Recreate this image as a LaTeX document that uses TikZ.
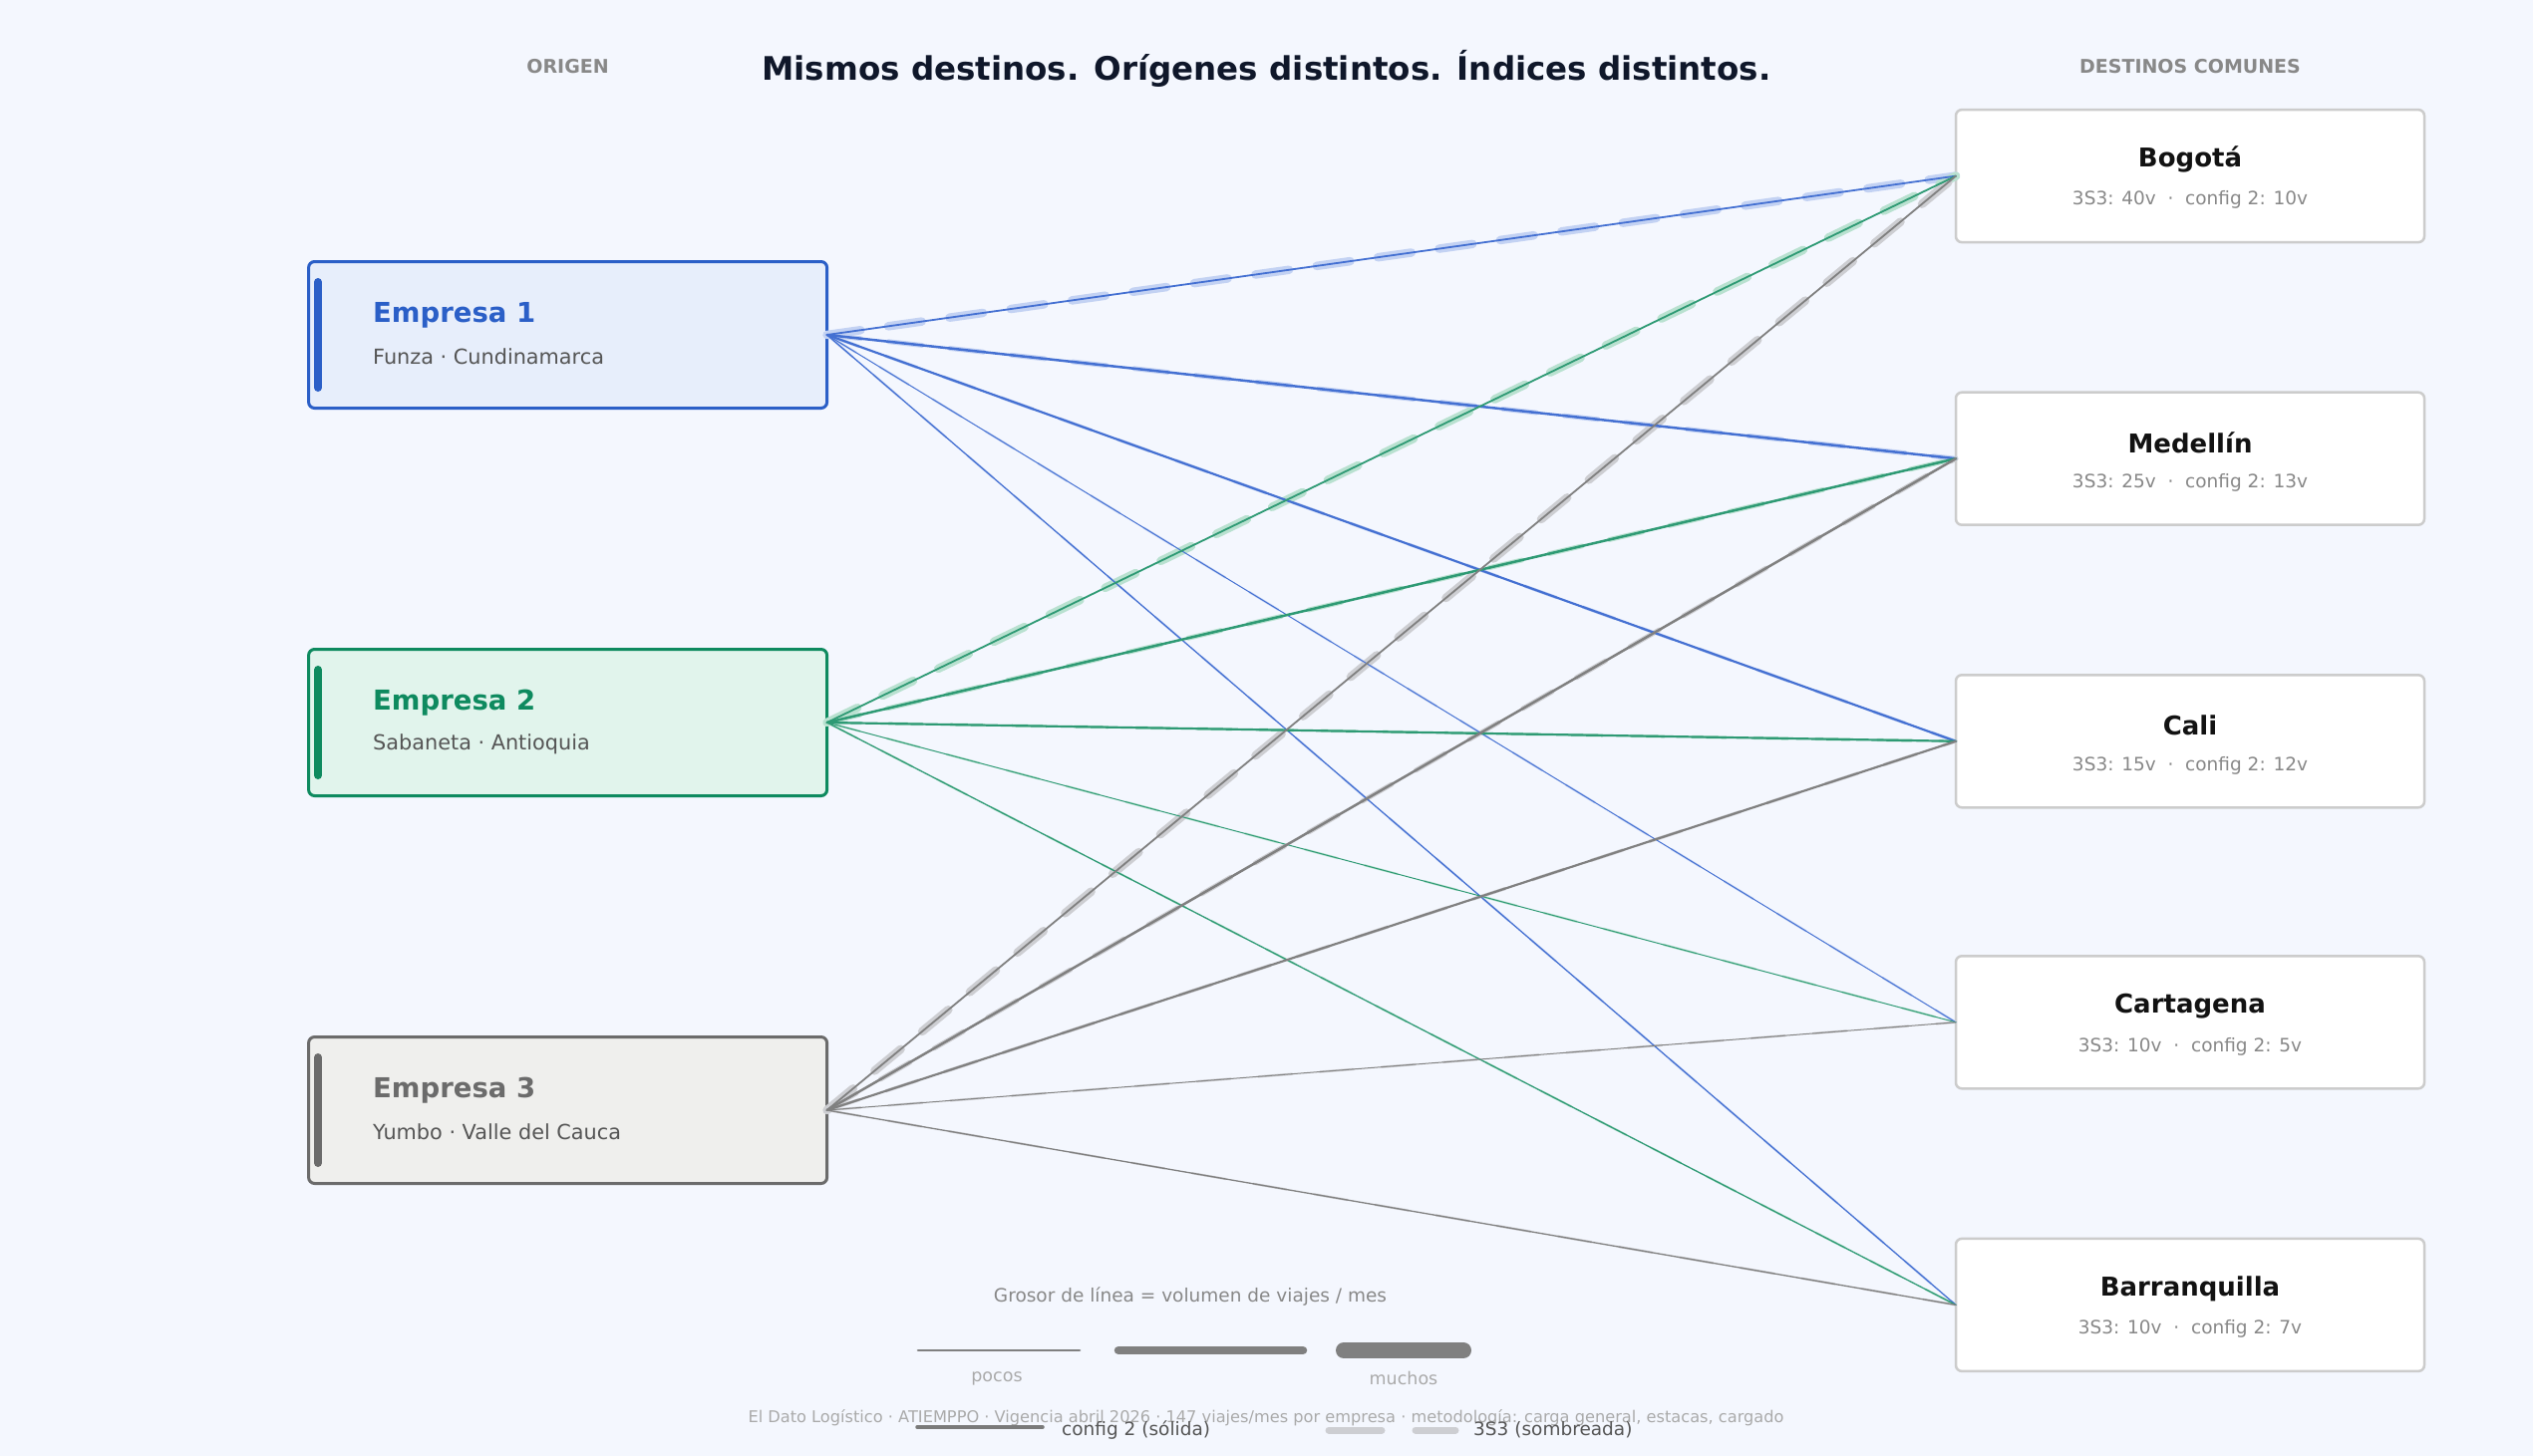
\documentclass[tikz,border=0pt]{standalone}
\usepackage{fontspec}
\setmainfont{DejaVu Sans}
\definecolor{bg}{HTML}{F4F7FE}
\definecolor{cblue}{HTML}{2B5FC7}
\definecolor{cgreen}{HTML}{0E8A5F}
\definecolor{cgray}{HTML}{6B6B6B}
\definecolor{fblue}{HTML}{E7EEFB}
\definecolor{fgreen}{HTML}{E1F4EC}
\definecolor{fgray}{HTML}{EFEFED}
\definecolor{lblue}{HTML}{4470D2}
\definecolor{lgreen}{HTML}{2E9A74}
\definecolor{lgray}{HTML}{808080}
\definecolor{sblue}{HTML}{C3D2F3}
\definecolor{sgreen}{HTML}{B9E1D0}
\definecolor{sgray}{HTML}{CDCED2}
\definecolor{txtdark}{HTML}{0F172A}
\definecolor{txtmid}{HTML}{555555}
\definecolor{txtlight}{HTML}{888888}
\definecolor{txtfaint}{HTML}{AAAAAA}
\definecolor{dborder}{HTML}{CCCCCC}
\begin{document}
\begin{tikzpicture}[x=1pt,y=-1pt,
  obox/.style={rectangle, rounded corners=6pt, line width=3pt, minimum width=520pt, minimum height=147pt, inner sep=0pt, outer sep=0pt},
  dbox/.style={rectangle, rounded corners=6pt, line width=2.5pt, draw=dborder, fill=white, minimum width=470pt, minimum height=133pt, inner sep=0pt, outer sep=0pt},
  oname/.style={anchor=west, inner sep=0pt, font=\fontsize{27.5}{30}\selectfont\bfseries},
  osub/.style={anchor=west, inner sep=0pt, text=txtmid, font=\fontsize{20.8}{24}\selectfont},
  dname/.style={inner sep=0pt, text=black!93, font=\fontsize{26}{30}\selectfont\bfseries},
  dsub/.style={inner sep=0pt, text=txtlight, font=\fontsize{18.5}{22}\selectfont},
  hdr/.style={inner sep=0pt, text=txtlight, font=\fontsize{19}{22}\selectfont\bfseries},
  accent/.style={line width=8pt, line cap=round},
  shade3/.style={line cap=round, dash pattern=on 34pt off 28pt},
  solid2/.style={line cap=round},
  lgtxt/.style={inner sep=0pt, text=txtlight, font=\fontsize{18.5}{22}\selectfont},
  lgsmall/.style={inner sep=0pt, text=txtfaint, font=\fontsize{17.5}{20}\selectfont}
]
\fill[bg] (0,0) rectangle (2541,1461);
\useasboundingbox (0,0) rectangle (2541,1461);

% headers
\node[hdr] (horig) at (569.6,66.5) {ORIGEN};
\node[hdr] (hdest) at (2197,66.5) {DESTINOS COMUNES};
\node[inner sep=0pt, text=txtdark, font=\fontsize{32.5}{36}\selectfont\bfseries] (title) at (1270.5,69) {Mismos destinos. Orígenes distintos. Índices distintos.};

% destination boxes
\node[dbox] (bog) at (2197,176.6) {};
\node[dbox] (med) at (2197,460.2) {};
\node[dbox] (cal) at (2197,743.8) {};
\node[dbox] (car) at (2197,1025.8) {};
\node[dbox] (bar) at (2197,1309.4) {};
\node[dname] (bogn) at (2197,160.3) {Bogotá};
\node[dsub] (bogs) at (2197,200.8) {3S3: 40v \ \textperiodcentered\ \ config 2: 10v};
\node[dname] (medn) at (2197,443.9) {Medellín};
\node[dsub] (meds) at (2197,484.4) {3S3: 25v \ \textperiodcentered\ \ config 2: 13v};
\node[dname] (caln) at (2197,727.5) {Cali};
\node[dsub] (cals) at (2197,768) {3S3: 15v \ \textperiodcentered\ \ config 2: 12v};
\node[dname] (carn) at (2197,1009.5) {Cartagena};
\node[dsub] (cars) at (2197,1050) {3S3: 10v \ \textperiodcentered\ \ config 2: 5v};
\node[dname] (barn) at (2197,1293.1) {Barranquilla};
\node[dsub] (bars) at (2197,1333.6) {3S3: 10v \ \textperiodcentered\ \ config 2: 7v};

% origin boxes
\node[obox, draw=cblue, fill=fblue] (e1) at (569.6,336) {};
\node[obox, draw=cgreen, fill=fgreen] (e2) at (569.6,725) {};
\node[obox, draw=cgray, fill=fgray] (e3) at (569.6,1114) {};
\draw[accent, cblue] ([xshift=9.5pt,yshift=-53pt]e1.west) coordinate (a1t) -- ([xshift=9.5pt,yshift=53pt]e1.west) coordinate (a1b);
\draw[accent, cgreen] ([xshift=9.5pt,yshift=-53pt]e2.west) coordinate (a2t) -- ([xshift=9.5pt,yshift=53pt]e2.west) coordinate (a2b);
\draw[accent, cgray] ([xshift=9.5pt,yshift=-53pt]e3.west) coordinate (a3t) -- ([xshift=9.5pt,yshift=53pt]e3.west) coordinate (a3b);
\node[oname, text=cblue] (e1n) at (374,316.5) {Empresa 1};
\node[osub] (e1s) at (374,358) {Funza \textperiodcentered\ Cundinamarca};
\node[oname, text=cgreen] (e2n) at (374,705.5) {Empresa 2};
\node[osub] (e2s) at (374,747) {Sabaneta \textperiodcentered\ Antioquia};
\node[oname, text=cgray] (e3n) at (374,1094.5) {Empresa 3};
\node[osub] (e3s) at (374,1136) {Yumbo \textperiodcentered\ Valle del Cauca};

% connectors: 3S3 shaded first
\foreach \o/\sc in {e1/sblue, e2/sgreen, e3/sgray} {
  \foreach \d/\w in {bar/2.2, car/2.2, cal/3.2, med/4.8, bog/8.5} {
    \draw[shade3, draw=\sc, line width=\w*1pt] (\o.east) -- (\d.west);
  }
}
% config 2 solid
\foreach \o/\lc in {e1/lblue, e2/lgreen, e3/lgray} {
  \foreach \d/\w in {bar/1.3, car/1.0, cal/2.2, med/2.5, bog/1.8} {
    \draw[solid2, draw=\lc, line width=\w*1pt] (\o.east) -- (\d.west);
  }
}

% legend
\node[lgtxt] (lgt) at (1194,1301) {Grosor de línea = volumen de viajes / mes};
\coordinate (l1a) at (921,1355); \coordinate (l1b) at (1083,1355);
\coordinate (l2a) at (1122,1355); \coordinate (l2b) at (1307,1355);
\coordinate (l3a) at (1348,1355); \coordinate (l3b) at (1468,1355);
\draw[lgray, line width=2.7pt, line cap=round] (l1a) -- (l1b);
\draw[lgray, line width=8.5pt, line cap=round] (l2a) -- (l2b);
\draw[lgray, line width=16pt, line cap=round] (l3a) -- (l3b);
\node[lgsmall] (pocos) at (1000,1383) {pocos};
\node[lgsmall] (muchos) at (1408,1383) {muchos};

\node[inner sep=0pt, text=txtfaint, font=\fontsize{16.2}{18}\selectfont] (foot) at (1270,1423) {El Dato Logístico \textperiodcentered\ ATIEMPPO \textperiodcentered\ Vigencia abril 2026 \textperiodcentered\ 147 viajes/mes por empresa \textperiodcentered\ metodología: carga general, estacas, cargado};

\coordinate (c2a) at (920,1432); \coordinate (c2b) at (1046,1432);
\draw[cgray!90, line width=3.5pt, line cap=round] (c2a) -- (c2b);
\node[anchor=west, inner sep=0pt, text=txtmid, font=\fontsize{18.5}{22}\selectfont] (c2t) at (1065,1435) {config 2 (sólida)};
\coordinate (s1a) at (1333,1435); \coordinate (s1b) at (1386,1435);
\coordinate (s2a) at (1420,1435); \coordinate (s2b) at (1460,1435);
\draw[sgray, line width=7pt, line cap=round] (s1a) -- (s1b);
\draw[sgray, line width=7pt, line cap=round] (s2a) -- (s2b);
\node[anchor=west, inner sep=0pt, text=txtmid, font=\fontsize{18.5}{22}\selectfont] (s3t) at (1478,1435) {3S3 (sombreada)};
\end{tikzpicture}
\end{document}
